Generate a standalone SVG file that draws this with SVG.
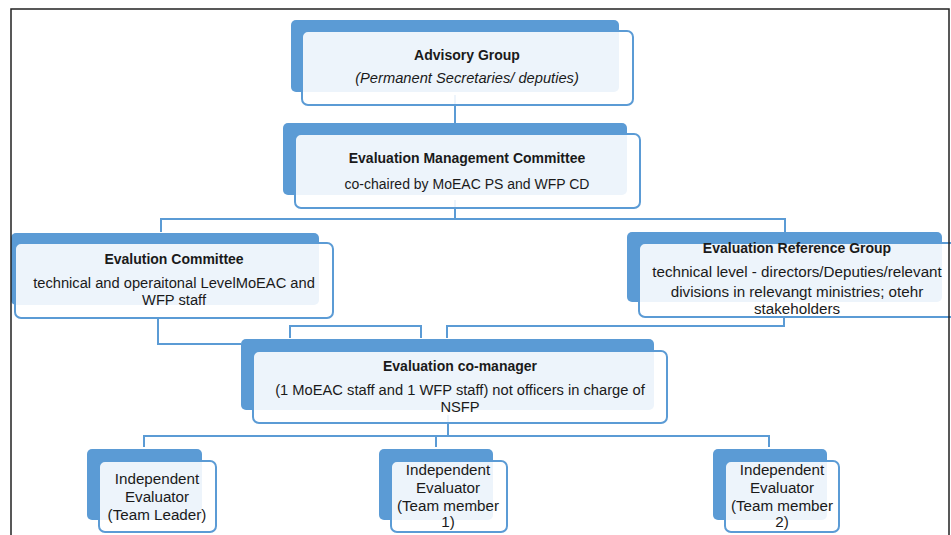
<svg xmlns="http://www.w3.org/2000/svg" width="951" height="535" viewBox="0 0 951 535">
<style>
.back{fill:#5B9BD5;}
.front{fill:#FFFFFF;fill-opacity:0.89;stroke:#5B9BD5;stroke-width:2;}
.conn{fill:none;stroke:#5B9BD5;stroke-width:2;}
text{font-family:"Liberation Sans","Noto Sans",sans-serif;font-size:14.7px;fill:#1a1a1a;text-anchor:middle;}
.b{font-weight:bold;font-size:14px;}
.i{font-style:italic;}
.s{font-size:14px;}
.l{font-size:15.2px;}
.frame{stroke:#222;stroke-width:1.5;fill:none;}
</style>
<rect width="951" height="535" fill="#FFFFFF"/>
<g id="connectors">
<polyline class="conn" points="455,95 455,123"/>
<polyline class="conn" points="455,200 455,219"/>
<polyline class="conn" points="161,232 161,219 785,219 785,232"/>
<polyline class="conn" points="158,318 158,344 241,344"/>
<polyline class="conn" points="290,338 290,326 421,326 421,338"/>
<polyline class="conn" points="784,317 784,326 447,326 447,338"/>
<polyline class="conn" points="448,415 448,436"/>
<polyline class="conn" points="144,447 144,436 769,436 769,447"/>
<polyline class="conn" points="436,436 436,447"/>
</g>
<g id="advisory-group">
<rect class="back" x="291" y="20" width="328" height="72" rx="5"/>
<rect class="front" x="302" y="31" width="331" height="74" rx="6"/>
<text class="b" x="467" y="60">Advisory Group</text>
<text class="i" x="467" y="83">(Permanent Secretaries/ deputies)</text>
</g>
<g id="evaluation-management-committee">
<rect class="back" x="283" y="123" width="344" height="72" rx="5"/>
<rect class="front" x="295" y="134" width="345" height="74" rx="6"/>
<text class="b" x="467" y="163">Evaluation Management Committee</text>
<text class="s" x="467" y="189">co-chaired by MoEAC PS and WFP CD</text>
</g>
<g id="evaluation-committee">
<rect class="back" x="11" y="233" width="308" height="72" rx="5"/>
<rect class="front" x="15" y="243" width="318" height="75" rx="6"/>
<text class="b" x="174" y="264">Evalution Committee</text>
<text x="174" y="288">technical and operaitonal LevelMoEAC and</text>
<text x="174" y="305">WFP staff</text>
</g>
<g id="evaluation-reference-group">
<rect class="back" x="627" y="232" width="315" height="70" rx="5"/>
<rect class="front" x="639" y="243" width="320" height="74" rx="6"/>
<text class="b" x="797" y="253">Evaluation Reference Group</text>
<text class="l" x="797" y="277">technical level - directors/Deputies/relevant</text>
<text class="l" x="797" y="297">divisions in relevangt ministries; otehr</text>
<text class="l" x="797" y="314">stakeholders</text>
</g>
<g id="evaluation-co-manager">
<rect class="back" x="241" y="339" width="413" height="71" rx="5"/>
<rect class="front" x="253" y="351" width="414" height="72" rx="6"/>
<text class="b" x="460" y="371">Evaluation co-manager</text>
<text x="460" y="395">(1 MoEAC staff and 1 WFP staff) not officers in charge of</text>
<text x="460" y="412">NSFP</text>
</g>
<g id="team-leader">
<rect class="back" x="87" y="449" width="115" height="71" rx="5"/>
<rect class="front" x="99" y="461" width="117" height="71" rx="6"/>
<text class="l" x="157" y="484">Independent</text>
<text class="l" x="157" y="502">Evaluator</text>
<text class="l" x="157" y="520">(Team Leader)</text>
</g>
<g id="team-member-1">
<rect class="back" x="379" y="449" width="114" height="71" rx="5"/>
<rect class="front" x="391" y="461" width="116" height="71" rx="6"/>
<text class="l" x="448" y="475">Independent</text>
<text class="l" x="448" y="493">Evaluator</text>
<text class="l" x="448" y="511">(Team member</text>
<text class="l" x="448" y="527">1)</text>
</g>
<g id="team-member-2">
<rect class="back" x="713" y="449" width="114" height="71" rx="5"/>
<rect class="front" x="725" y="461" width="114" height="71" rx="6"/>
<text class="l" x="782" y="475">Independent</text>
<text class="l" x="782" y="493">Evaluator</text>
<text class="l" x="782" y="511">(Team member</text>
<text class="l" x="782" y="527">2)</text>
</g>
<polyline class="frame" points="11,535 11,9 949,9 949,535"/>
</svg>
